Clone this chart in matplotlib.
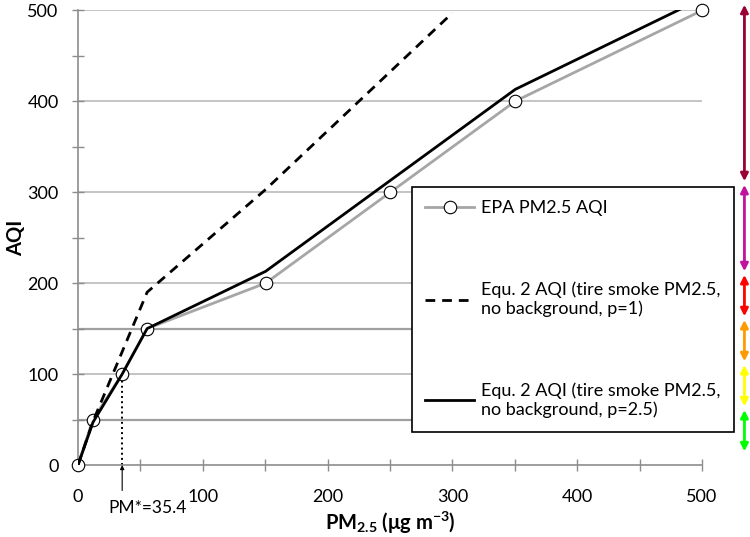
import matplotlib
matplotlib.use("Agg")
import matplotlib.pyplot as plt

plt.rcParams['font.family'] = ['Lato', 'DejaVu Sans']
plt.rcParams['mathtext.default'] = 'regular'

# EPA PM2.5 AQI breakpoints
epa_pm = [0, 12, 35.4, 55.4, 150.4, 250.4, 350.4, 500.4]
epa_aqi = [0, 50, 100, 150, 200, 300, 400, 500]

# Equ. 2 AQI, p=1 (dashed)
p1_pm = [0, 12, 55.4, 150.4, 300]
p1_aqi = [0, 48, 190, 303, 497]

# Equ. 2 AQI, p=2.5 (solid)
p25_pm = [0, 12, 35.4, 55.4, 150.4, 350.4, 500.4]
p25_aqi = [0, 47, 100, 150, 213, 413, 513]

labels = ["EPA PM2.5 AQI",
          "Equ. 2 AQI (tire smoke PM2.5,\nno background, p=1)",
          "Equ. 2 AQI (tire smoke PM2.5,\nno background, p=2.5)"]

band_edges = [0, 50, 100, 150, 200, 300, 500]
band_colors = ['#00FF00', '#FFFF00', '#FF9900', '#FF0000', '#C0139C', '#990033']

pm_star = 35.4

fig = plt.figure(figsize=(7.5, 5.37), dpi=100)
ax = fig.add_axes([0.104, 0.134, 0.832, 0.847])

# grid
for y in [100, 200, 300, 400, 500]:
    ax.axhline(y, color='#BFBFBF', lw=1.3, zorder=0)
for y in [50, 150]:
    ax.axhline(y, color='#A0A0A0', lw=1.6, zorder=0)

ax.plot(epa_pm, epa_aqi, color='#A6A6A6', lw=2, marker='o', ms=9,
        mfc='white', mec='black', mew=0.8, clip_on=False, zorder=3, label=labels[0])
ax.plot(p1_pm, p1_aqi, color='black', lw=2, dashes=(3.5, 2.5), zorder=4, label=labels[1])
ax.plot(p25_pm, p25_aqi, color='black', lw=2, zorder=5, label=labels[2])

# PM* marker
ax.plot([pm_star, pm_star], [0, 100], color='black', ls=':', lw=1.4, zorder=2)
ax.annotate('', xy=(pm_star, 0), xytext=(pm_star, -28), annotation_clip=False,
            arrowprops=dict(arrowstyle='-|>', color='black', lw=0.8,
                            mutation_scale=6, shrinkA=0, shrinkB=0))
ax.text(pm_star + 20, -47, 'PM*=35.4', ha='center', va='center', fontsize=12.5,
        clip_on=False)

ax.set_xlim(0, 500)
ax.set_ylim(0, 500)
ax.set_xticks(range(0, 501, 100))
ax.set_xticks(range(0, 501, 50), minor=True)
ax.set_yticks(range(0, 501, 100))
ax.set_yticks(range(0, 501, 50), minor=True)
for s in ['top', 'right']:
    ax.spines[s].set_visible(False)
for s in ['left', 'bottom']:
    ax.spines[s].set_color('#8C8C8C')
    ax.spines[s].set_linewidth(1.2)
ax.tick_params(which='both', direction='inout', length=8, color='#8C8C8C', width=1)
ax.tick_params(axis='y', which='major', pad=10, labelsize=13)
ax.tick_params(axis='x', which='major', pad=13, labelsize=13)

ax.set_xlabel('PM$_{2.5}$ (μg m$^{-3}$)', fontsize=14.5, fontweight='bold', labelpad=4)
ax.set_ylabel('AQI', fontsize=14.5, fontweight='bold', labelpad=1)

leg = ax.legend(loc='upper left', bbox_to_anchor=(0.549, 0.652),
                bbox_transform=fig.transFigure, fontsize=13, alignment='left',
                frameon=True, fancybox=False, framealpha=1, edgecolor='black',
                handlelength=2.7, handletextpad=0.4, labelspacing=3.6,
                borderpad=0.75, numpoints=1, borderaxespad=0)
for t in leg.get_texts():
    t.set_multialignment('left')
leg.get_frame().set_linewidth(1.2)
leg.set_zorder(6)

# colored AQI category arrows on the right
for lo, hi, c in zip(band_edges[:-1], band_edges[1:], band_colors):
    y0 = 13 + 0.99 * lo + 2
    y1 = 13 + 0.99 * hi - 2
    ax.annotate('', xy=(534, y1), xytext=(534, y0), annotation_clip=False,
                arrowprops=dict(arrowstyle='<|-|>', color=c, lw=2,
                                mutation_scale=11, shrinkA=0, shrinkB=0),
                zorder=8)

fig.savefig('out.png', dpi=100)
